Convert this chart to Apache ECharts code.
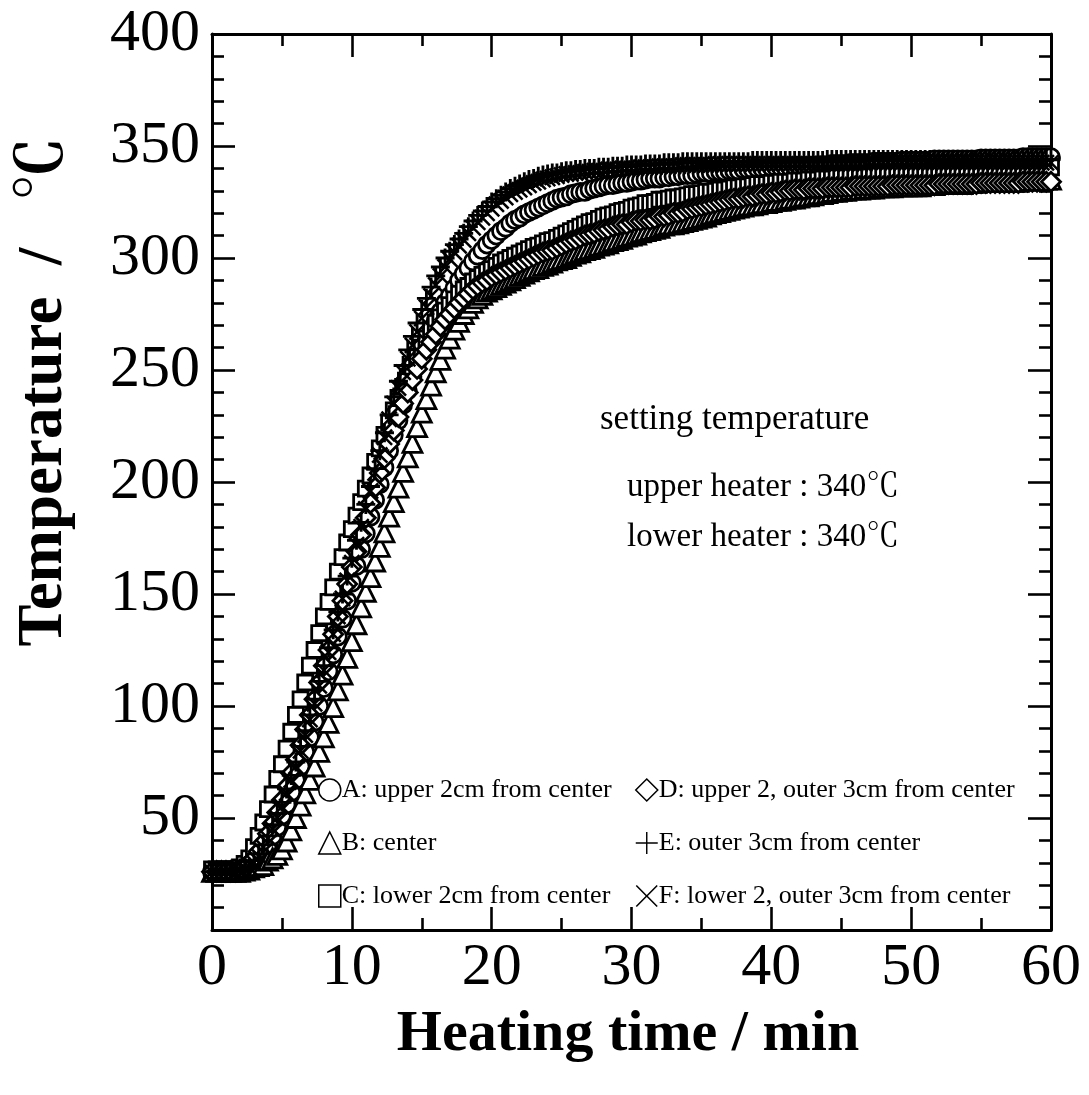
<!DOCTYPE html>
<html>
<head>
<meta charset="utf-8">
<script src="https://cdn.jsdelivr.net/npm/echarts@6/dist/echarts.min.js"></script>
<style>
  html, body { margin: 0; padding: 0; background: #ffffff; }
  #chart { width: 1089px; height: 1095px; }
</style>
</head>
<body>
<div id="chart"></div>
<script>
// Heating curves: thermocouple readings (°C) logged every 20 s, 0 to 60 min.
// Each row below holds 5 minutes of readings (15 samples).
const SAMPLES_PER_MIN = 3;

const tempA = [
  26,26,26,26,26,26,26,26.5,27,29,31.5,34.5,38,42,46,
  51,56,61.5,67,73,79.5,86,93,100,108,115.5,123,131,139,147,
  155,162.5,170,177,184.5,192,199,206.5,214,221,227.5,234.5,241,247,253,
  258,263,267.5,272,276,280,283,286.5,290,293,295.5,298.5,301,303.5,306,
  308,310,312,313.5,315.5,317,318,319.5,320.5,321.5,322.5,323.5,324.5,325.5,326.5,
  327,327.5,328.5,329,329.5,329.5,330.5,331,331.5,332,332.5,332.5,333,333.5,333.5,
  334,334.5,334.5,335,335.5,335.5,335.5,336,336,336.5,336.5,337,337,337,337.5,
  338,338,338,338.5,338.5,338.5,339,339,339,339.5,339.5,339.5,340,340,340,
  340.5,340.5,340.5,340.5,340.5,341,341,341,341,341,341.5,341.5,341.5,342,342,
  342,342,342.5,342.5,342.5,342.5,342.5,343,343,343,343,343,343,343.5,343.5,
  343.5,343.5,343.5,343.5,343.5,344,344,344,344,344,344,344,344,344,344,
  344.5,344.5,344.5,344.5,344.5,344.5,344.5,344.5,344.5,345,345,345,345,345,345,
  345
];
const tempB = [
  26,26,26,26,26,26,26,26.5,27,28,28.5,29,31,32,33.5,
  36,39.5,44.5,50,55.5,61,67,73,79.5,86,92.5,99.5,107,114,121.5,
  129,136.5,144,151,157.5,164.5,171,177.5,184.5,191,197.5,204.5,211,217.5,224.5,
  231,237,243,249,254.5,259.5,264,268,271.5,275,277.5,280,282,283.5,285,
  286,287,288,289,290,291,292,293,294,295,295.5,296.5,297,298,299,
  299.5,300,301,302,302.5,303.5,304,304.5,305.5,306,306.5,307.5,308,308.5,309.5,
  310,310.5,311.5,312,312.5,313,313.5,314.5,315,315,315.5,316,316.5,317,317.5,
  318,318.5,319.5,320,320.5,321,321.5,322,322.5,323,323.5,323.5,324,324.5,324.5,
  325,325.5,325.5,326,326.5,326.5,327,327.5,327.5,328,328.5,328.5,329,329.5,329.5,
  330,330,330.5,330.5,330.5,331,331,331,331.5,331.5,331.5,331.5,332,332,332,
  332,332,332,332.5,332.5,332.5,333,333,333,333,333,333,333.5,333.5,333.5,
  334,334,334,334,334,334,334,334,334,334.5,334.5,334.5,335,335,335,
  335
];
const tempC = [
  27,27,27,27,27,27,28,29.5,32,37,42,48,54,60.5,67.5,
  74,81,88.5,96,103,110.5,118,125,132.5,140,146.5,153,160,166.5,173,
  179,185,191,197,203,209,215,221,226.5,232,237.5,242.5,247,251.5,256,
  260,264,268,271,273.5,276.5,279,281.5,284,286,287.5,289.5,291,292.5,294,
  295,296.5,298,299,300,301,302,303,304,305,305.5,306.5,307.5,308,309,
  310,311,312,313,314,315,316,316.5,317.5,318.5,319,319.5,320.5,321,321.5,
  322.5,323,323.5,324.5,324.5,325,326,326,326.5,327,327,327.5,328,328.5,328.5,
  329,329.5,329.5,330,330.5,330.5,331,331.5,331.5,332,332,332.5,333,333,333,
  333.5,333.5,334,334,334,334.5,334.5,334.5,335,335,335,335.5,335.5,335.5,336,
  336,336,336.5,336.5,336.5,337,337,337,337,337,337.5,337.5,337.5,338,338,
  338,338,338,338.5,338.5,338.5,338.5,338.5,339,339,339,339,339,339,339.5,
  339.5,339.5,339.5,339.5,339.5,340,340,340,340,340,340,340,340.5,340.5,340.5,
  340.5
];
const tempD = [
  26,26,26,26,26,26,27,28,29.5,32,35,39,43,47.5,52.5,
  58,64,70,76,82.5,89.5,96,103,110.5,118,125,132,140,147,154.5,
  162,169,176.5,184,190.5,197.5,204,210.5,217,223,229,235,240,245.5,250.5,
  255,259,262.5,266,269.5,272.5,275,277.5,280,282,284,286,287.5,289,290,
  291.5,292.5,293.5,294.5,295.5,296.5,297.5,298.5,299.5,300.5,301.5,302.5,303,303.5,304.5,
  305.5,306.5,307.5,308,309,310,310.5,311,312,312.5,313,314,314.5,315,315,
  316,316.5,316.5,317,317,317.5,318.5,318.5,319,320,320,320.5,321.5,322,322.5,
  323,323.5,324,324.5,325,325.5,326,326.5,326.5,327,327.5,327.5,328,328.5,328.5,
  329,329,329.5,330,330,330.5,330.5,330.5,331,331,331,331,331.5,331.5,331.5,
  331.5,331.5,331.5,332,332,332,332,332,332,332,332,332.5,332.5,332.5,332.5,
  332.5,332.5,332.5,332.5,332.5,332.5,333,333,333,333,333,333,333,333,333,
  333.5,333.5,333.5,333.5,333.5,333.5,333.5,333.5,333.5,334,334,334,334,334,334,
  334
];
const tempE = [
  26,26,26,26,26,26,27,27,28,31,34,38,42,47,52,
  57,63,69,75,82,89,96,103,111,118,126,134,142,150,158,
  166,174,182,190,198,206,214,222,230,238,245,252,259,265,271,
  277,282,287,292,296,300,303,306,308.5,311,314,316.5,319,321,323,
  325,326.5,328,329.5,331,332,333,334,335,335.5,336.5,337,337.5,338,338,
  338.5,339,339,339.5,339.5,340,340,340,340.5,340.5,340.5,341,341,341,341.5,
  341.5,341.5,341.5,342,342,342,342,342.5,342.5,342.5,342.5,343,343,343,343,
  343,343,343,343,343,343,343,343,343,343,343,343.5,343.5,343.5,343.5,
  343.5,343.5,343.5,343.5,343.5,343.5,343.5,343.5,343.5,343.5,343.5,343.5,344,344,344,
  344,344,344,344,344,344,344,344,344,344,344,344,344,344,344,
  344,344,344,344,344,344,344,344,344,344,344,344,344,344,344,
  344,344,344,344,344,344,344,344,344,344,344,344,344,344,344,
  344
];
const tempF = [
  26,26,26,26,26,26,27,27,28,30,33,37,41,45,50,
  55,61,67,73,80,87,94,101,109,116,124,132,140,148,156,
  164,172,180,188,196,204,212,220,228,235,242,249,255,261,267,
  273,278,283,288,292,296,299.5,302.5,305.5,308,311,313.5,316,318,320,
  322,324,325.5,327,328.5,329.5,330.5,331.5,332.5,333.5,334,335,335.5,336,336.5,
  337,337.5,337.5,338,338,338.5,338.5,339,339,339,339.5,339.5,339.5,340,340,
  340,340,340.5,340.5,340.5,340.5,341,341,341,341,341,341.5,341.5,341.5,341.5,
  341.5,341.5,341.5,342,342,342,342,342,342,342,342,342,342,342,342,
  342,342,342,342,342,342,342,342,342,342,342,342,342,342,342,
  342,342,342,342,342,342,342.5,342.5,342.5,342.5,342.5,342.5,342.5,342.5,342.5,
  342.5,342.5,342.5,342.5,342.5,342.5,342.5,342.5,342.5,342.5,342.5,342.5,342.5,342.5,342.5,
  342.5,342.5,342.5,342.5,342.5,342.5,342.5,342.5,342.5,342.5,342.5,342.5,342.5,342.5,342.5,
  342.5
];

const seriesNames = [
  'A: upper 2cm from center',
  'B: center',
  'C: lower 2cm from center',
  'D: upper 2, outer 3cm from center',
  'E: outer 3cm from center',
  'F: lower 2, outer 3cm from center'
];

const xTickValues = [0, 10, 20, 30, 40, 50, 60];
const yTickValues = [50, 100, 150, 200, 250, 300, 350, 400];

const noteLines = [
  'setting temperature',
  'upper heater : 340℃',
  'lower heater : 340℃'
];

// ---- marker shapes ----
const PLUS_PATH = 'path://M8.5,0H11.5V8.5H20V11.5H11.5V20H8.5V11.5H0V8.5H8.5Z';
const CROSS_PATH = 'path://M2.1,0L10,7.9L17.9,0L20,2.1L12.1,10L20,17.9L17.9,20L10,12.1L2.1,20L0,17.9L7.9,10L0,2.1Z';
const PLUS_THIN = 'path://M9.35,0H10.65V9.35H20V10.65H10.65V20H9.35V10.65H0V9.35H9.35Z';
const CROSS_THIN = 'path://M1,0L10,9L19,0L20,1L11,10L20,19L19,20L10,11L1,20L0,19L9,10L0,1Z';

const SERIF = "'Liberation Serif', 'Times New Roman', 'Noto Serif CJK JP', 'Noto Sans CJK JP', serif";

const toPoints = vals => vals.map((v, i) => [i / SAMPLES_PER_MIN, v]);

const markerDefs = [
  { data: tempA, symbol: 'circle',   size: 17, fill: '#ffffff', border: 2.8 },
  { data: tempB, symbol: 'triangle', size: 19, fill: '#ffffff', border: 2.8 },
  { data: tempC, symbol: 'rect',     size: 15, fill: '#ffffff', border: 2.8 },
  { data: tempD, symbol: 'diamond',  size: 19, fill: '#ffffff', border: 2.8 },
  { data: tempE, symbol: PLUS_PATH,  size: 19, fill: '#000000', border: 0 },
  { data: tempF, symbol: CROSS_PATH, size: 17, fill: '#000000', border: 0 }
];

const series = markerDefs.map((d, i) => ({
  type: 'scatter',
  name: seriesNames[i],
  data: toPoints(d.data),
  symbol: d.symbol,
  symbolSize: d.size,
  clip: false,
  itemStyle: { color: d.fill, borderColor: '#000000', borderWidth: d.border, opacity: 1 },
  emphasis: { disabled: true }
}));

const tickStyle = { show: true, inside: true, length: 23, lineStyle: { color: '#000', width: 2.6 } };
const minorStyle = { show: true, length: 12, lineStyle: { color: '#000', width: 2.6 } };
const lineStyle = { show: true, onZero: false, lineStyle: { color: '#000', width: 3 } };

const xAxisBase = {
  type: 'value', min: 0, max: 60, interval: 10,
  axisLine: lineStyle, axisTick: tickStyle,
  minorTick: Object.assign({ splitNumber: 2 }, minorStyle),
  splitLine: { show: false }, minorSplitLine: { show: false }
};
const yAxisBase = {
  type: 'value', min: 0, max: 400, interval: 50,
  axisLine: lineStyle, axisTick: tickStyle,
  minorTick: Object.assign({ splitNumber: 5 }, minorStyle),
  splitLine: { show: false }, minorSplitLine: { show: false }
};

// legend glyphs are drawn thinner than the plotted markers
const legendItem = (i) => {
  if (i === 4) return { name: seriesNames[i], icon: PLUS_THIN, itemStyle: { color: '#000', borderWidth: 0 } };
  if (i === 5) return { name: seriesNames[i], icon: CROSS_THIN, itemStyle: { color: '#000', borderWidth: 0 } };
  return { name: seriesNames[i], itemStyle: { color: '#fff', borderColor: '#000', borderWidth: 1.5 } };
};

const legendCommon = {
  orient: 'vertical',
  itemWidth: 22,
  itemHeight: 22,
  itemGap: 27,
  selectedMode: false,
  textStyle: { fontFamily: SERIF, fontSize: 26, color: '#000', padding: [0, 0, 0, -4] }
};

const option = {
  animation: false,
  backgroundColor: '#ffffff',
  grid: { left: 212, top: 34, right: 38, bottom: 165, containLabel: false },
  xAxis: [
    Object.assign({}, xAxisBase, {
      position: 'bottom',
      axisLabel: {
        show: true, margin: 8, color: '#000', fontFamily: SERIF, fontSize: 60,
        formatter: v => (xTickValues.includes(v) ? String(v) : '')
      }
    }),
    Object.assign({}, xAxisBase, { position: 'top', axisLabel: { show: false } })
  ],
  yAxis: [
    Object.assign({}, yAxisBase, {
      position: 'left',
      axisLabel: {
        show: true, margin: 12, color: '#000', fontFamily: SERIF, fontSize: 60,
        formatter: v => (yTickValues.includes(v) ? String(v) : '')
      }
    }),
    Object.assign({}, yAxisBase, { position: 'right', axisLabel: { show: false } })
  ],
  legend: [
    Object.assign({}, legendCommon, { left: 313, top: 772, data: [0, 1, 2].map(legendItem) }),
    Object.assign({}, legendCommon, { left: 630, top: 772, data: [3, 4, 5].map(legendItem) })
  ],
  graphic: [
    {
      type: 'text', x: 628, y: 1035, silent: true,
      style: { text: 'Heating time / min', font: 'bold 58px ' + SERIF, fill: '#000', align: 'center', verticalAlign: 'middle' }
    },
    {
      type: 'text', x: 45, y: 392, rotation: Math.PI / 2, silent: true,
      style: { text: 'Temperature  /   ℃', font: 'bold 63px ' + SERIF, fill: '#000', align: 'center', verticalAlign: 'middle' }
    },
    {
      type: 'text', x: 600, y: 420, silent: true,
      style: { text: noteLines[0], font: '35px ' + SERIF, fill: '#000', align: 'left', verticalAlign: 'middle' }
    },
    {
      type: 'text', x: 627, y: 487, silent: true,
      style: { text: noteLines[1], font: '33px ' + SERIF, fill: '#000', align: 'left', verticalAlign: 'middle' }
    },
    {
      type: 'text', x: 627, y: 537, silent: true,
      style: { text: noteLines[2], font: '33px ' + SERIF, fill: '#000', align: 'left', verticalAlign: 'middle' }
    }
  ],
  series: series
};

const chart = echarts.init(document.getElementById('chart'), null, { renderer: 'canvas' });
chart.setOption(option);
</script>
</body>
</html>
